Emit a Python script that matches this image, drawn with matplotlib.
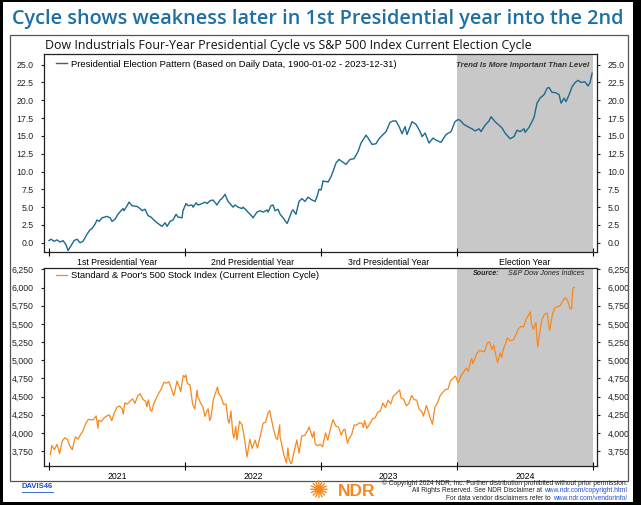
import numpy as np
import pandas as pd
import matplotlib
matplotlib.use("Agg")
import matplotlib.pyplot as plt
import matplotlib.dates as mdates
from matplotlib.patches import Rectangle
from matplotlib.lines import Line2D
from matplotlib.ticker import FormatStrFormatter, FuncFormatter

# ---------------- data ----------------
# Presidential cycle pattern: position in the 4-year cycle (years) and % change
cycle_t = [0.000, 0.015, 0.037, 0.059, 0.081, 0.103, 0.125, 0.140, 0.162, 0.184,
           0.206, 0.228, 0.250, 0.279, 0.301, 0.316, 0.338, 0.353, 0.368, 0.390,
           0.426, 0.449, 0.463, 0.485, 0.507, 0.529, 0.544, 0.551, 0.574, 0.588,
           0.610, 0.647, 0.669, 0.684, 0.706, 0.728, 0.750, 0.765, 0.794, 0.816,
           0.831, 0.853, 0.868, 0.890, 0.912, 0.934, 0.949, 0.978, 0.985, 1.007,
           1.022, 1.051, 1.059, 1.081, 1.096, 1.125, 1.147, 1.162, 1.184, 1.206,
           1.235, 1.257, 1.272, 1.294, 1.316, 1.331, 1.353, 1.368, 1.390, 1.419,
           1.426, 1.449, 1.463, 1.493, 1.500, 1.529, 1.551, 1.574, 1.603, 1.610,
           1.632, 1.647, 1.662, 1.684, 1.699, 1.721, 1.750, 1.757, 1.787, 1.794,
           1.816, 1.838, 1.860, 1.882, 1.904, 1.934, 1.956, 1.971, 1.985, 2.000,
           2.015, 2.022, 2.044, 2.051, 2.074, 2.088, 2.110, 2.132, 2.162, 2.184,
           2.213, 2.243, 2.272, 2.294, 2.331, 2.346, 2.375, 2.404, 2.426, 2.456,
           2.478, 2.507, 2.529, 2.551, 2.574, 2.596, 2.618, 2.632, 2.669, 2.699,
           2.728, 2.743, 2.765, 2.794, 2.824, 2.846, 2.882, 2.919, 2.956, 2.985,
           3.007, 3.022, 3.051, 3.088, 3.110, 3.132, 3.162, 3.176, 3.206, 3.235,
           3.250, 3.279, 3.309, 3.331, 3.353, 3.390, 3.419, 3.441, 3.463, 3.493,
           3.500, 3.529, 3.551, 3.566, 3.588, 3.610, 3.640, 3.662, 3.676, 3.699,
           3.721, 3.750, 3.765, 3.787, 3.801, 3.824, 3.846, 3.868, 3.890, 3.912,
           3.941, 3.963, 3.978, 3.993]
cycle_v = [0.3, 0.5, 0.2, 0.4, 0.1, 0.3, -0.3, -1.1, -0.4, 0.3,
           0.5, 0.0, 0.2, 1.2, 1.8, 2.0, 2.6, 3.2, 3.0, 3.5,
           3.7, 3.5, 3.0, 3.3, 4.0, 4.5, 4.8, 4.5, 5.2, 5.7,
           5.2, 5.1, 4.8, 4.5, 4.7, 3.8, 3.6, 3.3, 2.8, 2.5,
           2.3, 2.8, 2.3, 3.0, 3.2, 4.0, 3.6, 3.5, 4.5, 5.5,
           5.2, 5.3, 5.0, 5.6, 5.3, 5.5, 5.7, 5.5, 5.9, 6.0,
           5.3, 6.0, 6.2, 6.8, 5.8, 5.5, 5.0, 5.3, 5.0, 4.8,
           5.0, 4.6, 4.3, 3.7, 3.5, 4.3, 4.5, 4.3, 4.6, 4.3,
           5.2, 5.3, 4.5, 4.7, 4.0, 3.5, 2.7, 3.0, 4.5, 4.6,
           4.0, 5.8, 6.2, 5.8, 6.4, 6.0, 5.8, 6.5, 7.5, 7.4,
           8.7, 8.6, 8.6, 8.5, 9.3, 10.0, 11.2, 11.7, 11.3, 11.0,
           11.7, 11.8, 12.8, 14.0, 15.1, 14.7, 13.8, 13.9, 14.6, 15.2,
           15.6, 16.9, 17.1, 17.1, 16.3, 15.3, 16.3, 15.2, 17.0, 16.6,
           15.6, 14.9, 15.4, 14.0, 14.7, 14.4, 14.1, 15.2, 15.6, 17.0,
           17.3, 17.2, 16.6, 16.2, 16.0, 15.7, 16.0, 15.6, 16.5, 17.1,
           17.7, 17.0, 16.5, 16.1, 15.4, 14.6, 14.9, 15.8, 15.6, 16.0,
           15.5, 16.2, 17.0, 17.6, 19.6, 20.3, 20.8, 21.7, 21.8, 21.1,
           21.1, 20.8, 19.6, 20.3, 19.8, 20.8, 21.9, 22.5, 22.8, 22.5,
           22.6, 22.0, 22.5, 23.8]
cycle_labels = ["1st Presidential Year", "2nd Presidential Year",
                "3rd Presidential Year", "Election Year"]

spx_dates = [
    '2021-01-04', '2021-01-08', '2021-01-15', '2021-01-22', '2021-01-29', '2021-02-05',
    '2021-02-12', '2021-02-19', '2021-02-26', '2021-03-04', '2021-03-12', '2021-03-19',
    '2021-03-26', '2021-04-01', '2021-04-09', '2021-04-16', '2021-04-23', '2021-04-30',
    '2021-05-07', '2021-05-12', '2021-05-14', '2021-05-21', '2021-05-28', '2021-06-04',
    '2021-06-11', '2021-06-18', '2021-06-25', '2021-07-02', '2021-07-09', '2021-07-16',
    '2021-07-19', '2021-07-23', '2021-07-30', '2021-08-06', '2021-08-13', '2021-08-19',
    '2021-08-27', '2021-09-02', '2021-09-10', '2021-09-17', '2021-09-20', '2021-09-24',
    '2021-09-30', '2021-10-04', '2021-10-08', '2021-10-15', '2021-10-22', '2021-10-29',
    '2021-11-05', '2021-11-12', '2021-11-18', '2021-11-26', '2021-12-01', '2021-12-03',
    '2021-12-10', '2021-12-17', '2021-12-20', '2021-12-27', '2021-12-31',
    '2022-01-03', '2022-01-07', '2022-01-14', '2022-01-21', '2022-01-27', '2022-02-02',
    '2022-02-04', '2022-02-11', '2022-02-18', '2022-02-23', '2022-03-01', '2022-03-04',
    '2022-03-08', '2022-03-11', '2022-03-18', '2022-03-29', '2022-04-01', '2022-04-08',
    '2022-04-14', '2022-04-21', '2022-04-26', '2022-04-29', '2022-05-04', '2022-05-09',
    '2022-05-12', '2022-05-17', '2022-05-20', '2022-05-27', '2022-06-03', '2022-06-10',
    '2022-06-16', '2022-06-24', '2022-06-30', '2022-07-08', '2022-07-14', '2022-07-22',
    '2022-07-29', '2022-08-05', '2022-08-12', '2022-08-16', '2022-08-19', '2022-08-26',
    '2022-09-02', '2022-09-06', '2022-09-12', '2022-09-13', '2022-09-16', '2022-09-23',
    '2022-09-30', '2022-10-04', '2022-10-07', '2022-10-12', '2022-10-14', '2022-10-21',
    '2022-10-28', '2022-11-03', '2022-11-10', '2022-11-18', '2022-11-25', '2022-11-30',
    '2022-12-09', '2022-12-13', '2022-12-16', '2022-12-22', '2022-12-30',
    '2023-01-05', '2023-01-13', '2023-01-19', '2023-01-27', '2023-02-02', '2023-02-10',
    '2023-02-17', '2023-02-24', '2023-03-03', '2023-03-06', '2023-03-13', '2023-03-17',
    '2023-03-24', '2023-03-31', '2023-04-06', '2023-04-14', '2023-04-21', '2023-04-25',
    '2023-04-28', '2023-05-04', '2023-05-12', '2023-05-19', '2023-05-26', '2023-06-02',
    '2023-06-09', '2023-06-16', '2023-06-23', '2023-06-30', '2023-07-07', '2023-07-14',
    '2023-07-21', '2023-07-31', '2023-08-04', '2023-08-11', '2023-08-18', '2023-08-25',
    '2023-09-01', '2023-09-08', '2023-09-15', '2023-09-21', '2023-09-29', '2023-10-03',
    '2023-10-11', '2023-10-20', '2023-10-27', '2023-11-03', '2023-11-10', '2023-11-17',
    '2023-11-24', '2023-12-01', '2023-12-08', '2023-12-15', '2023-12-22', '2023-12-28',
    '2023-12-29',
    '2024-01-04', '2024-01-12', '2024-01-19', '2024-01-26', '2024-01-31', '2024-02-09',
    '2024-02-13', '2024-02-23', '2024-03-01', '2024-03-08', '2024-03-15', '2024-03-22',
    '2024-03-28', '2024-04-04', '2024-04-09', '2024-04-12', '2024-04-19', '2024-04-26',
    '2024-04-30', '2024-05-03', '2024-05-10', '2024-05-15', '2024-05-23', '2024-05-31',
    '2024-06-07', '2024-06-14', '2024-06-21', '2024-06-28', '2024-07-05', '2024-07-16',
    '2024-07-19', '2024-07-24', '2024-07-31', '2024-08-02', '2024-08-05', '2024-08-09',
    '2024-08-16', '2024-08-23', '2024-08-30', '2024-09-06', '2024-09-13', '2024-09-19',
    '2024-09-27', '2024-10-04', '2024-10-11', '2024-10-18', '2024-10-25', '2024-10-31',
    '2024-11-04', '2024-11-06', '2024-11-08', '2024-11-11']
spx_values = [
    3700, 3825, 3768, 3841, 3714, 3887,
    3934, 3907, 3811, 3768, 3943, 3913,
    3975, 4020, 4129, 4185, 4180, 4181,
    4233, 4063, 4174, 4156, 4204, 4230,
    4247, 4166, 4281, 4352, 4370, 4327,
    4258, 4412, 4395, 4437, 4468, 4406,
    4509, 4537, 4459, 4433, 4358, 4455,
    4308, 4300, 4391, 4471, 4545, 4605,
    4697, 4683, 4704, 4595, 4513, 4538,
    4712, 4621, 4568, 4791, 4766,
    4797, 4677, 4662, 4398, 4326, 4589,
    4500, 4418, 4349, 4225, 4306, 4329,
    4170, 4204, 4463, 4632, 4546, 4488,
    4393, 4394, 4175, 4132, 4300, 3991,
    3930, 4088, 3901, 4158, 4109, 3901,
    3667, 3912, 3785, 3899, 3790, 3962,
    4130, 4145, 4280, 4305, 4228, 4058,
    3924, 3909, 4110, 3932, 3873, 3693,
    3586, 3791, 3640, 3577, 3583, 3752,
    3901, 3720, 3956, 3965, 4026, 4080,
    3934, 4019, 3852, 3822, 3840,
    3808, 3999, 3899, 4071, 4180, 4090,
    4079, 3970, 4046, 4048, 3855, 3917,
    3971, 4109, 4105, 4138, 4133, 4071,
    4169, 4061, 4124, 4192, 4205, 4282,
    4299, 4410, 4348, 4450, 4399, 4505,
    4536, 4589, 4478, 4464, 4370, 4406,
    4515, 4457, 4450, 4330, 4288, 4229,
    4377, 4224, 4117, 4358, 4415, 4514,
    4559, 4595, 4604, 4719, 4755, 4783,
    4770,
    4688, 4784, 4840, 4891, 4846, 5027,
    4953, 5089, 5137, 5124, 5117, 5234,
    5254, 5147, 5209, 5123, 4967, 5100,
    5036, 5128, 5223, 5308, 5268, 5278,
    5347, 5432, 5465, 5460, 5567, 5667,
    5505, 5427, 5522, 5346, 5186, 5344,
    5554, 5634, 5648, 5408, 5626, 5714,
    5738, 5751, 5815, 5864, 5808, 5705,
    5712, 5929, 5996, 6001]
spx_years = ["2021", "2022", "2023", "2024"]

title_text = "Cycle shows weakness later in 1st Presidential year into the 2nd"
subtitle_text = "Dow Industrials Four-Year Presidential Cycle vs S&P 500 Index Current Election Cycle"
legend_top = "Presidential Election Pattern (Based on Daily Data, 1900-01-02 - 2023-12-31)"
legend_bottom = "Standard & Poor's 500 Stock Index (Current Election Cycle)"

# ---------------- style ----------------
W, H = 641, 505
BLUE = '#1b6a90'
ORANGE = '#f5891f'
SHADE = '#c8c8c8'
TITLE_BLUE = '#1d6fa4'
LINK = '#1f4fd0'
NARROW = ['Liberation Sans Narrow', 'Liberation Sans', 'DejaVu Sans']
plt.rcParams['font.family'] = NARROW

fig = plt.figure(figsize=(W / 100, H / 100), dpi=100)
fig.patch.set_facecolor('white')
renderer = fig.canvas.get_renderer()


def fx(x):
    return x / W


def fy(y):
    return 1 - y / H


def size_for(s, width, base=10, **kw):
    t = fig.text(0, 0, s, fontsize=base, **kw)
    w = t.get_window_extent(renderer=renderer).width
    t.remove()
    return base * width / w


def fit(t, width):
    w = t.get_window_extent(renderer=renderer).width
    t.set_fontsize(t.get_fontsize() * width / w)


def box(x0, y0, x1, y1, **kw):
    fig.add_artist(Rectangle((fx(x0), fy(y1)), (x1 - x0) / W, (y1 - y0) / H,
                             transform=fig.transFigure, **kw))


# outer black frame and inner gray box
for (a, b, c, d) in [(0, 0, 3, H), (W - 8, 0, W, H), (0, H - 3, W, H), (0, 0, W, 2)]:
    box(a, b, c, d, color='black', lw=0, zorder=0)
box(10, 35, 628, 481, fill=False, edgecolor='#555555', lw=0.9)

# title / subtitle
t = fig.text(fx(12), fy(19), title_text, ha='left', va='center', color=TITLE_BLUE,
             fontsize=18, weight='semibold', family=['Open Sans', 'DejaVu Sans'])
fit(t, 612)
t = fig.text(fx(45), fy(45), subtitle_text, ha='left', va='center', color='#111111',
             fontsize=9, family=['Open Sans', 'DejaVu Sans'])
fit(t, 487)

# ---------------- top axes ----------------
ax1 = fig.add_axes([fx(44), fy(252), fx(597) - fx(44), fy(54) - fy(252)])
ax1.axvspan(3, 4, color=SHADE, lw=0, zorder=0)
ax1.plot(cycle_t, cycle_v, color=BLUE, lw=1.0, label=legend_top)
ax1.set_xlim(-0.037, 4.029)
ax1.set_ylim(-1.3, 26.5)
ax1.set_yticks(np.arange(0, 25.01, 2.5))
ax1.yaxis.set_major_formatter(FormatStrFormatter('%.1f'))
ax1.set_xticks([0, 1, 2, 3, 4])
ax1.set_xticklabels([])
ax1.set_xticks([0.5, 1.5, 2.5, 3.5], minor=True)
ax1.set_xticklabels(cycle_labels, minor=True)

lsz = size_for(legend_top, 326)
leg = ax1.legend(loc='center left', bbox_to_anchor=(0.022, 0.949), frameon=False,
                 fontsize=lsz, handlelength=1.1, handletextpad=0.45,
                 borderpad=0, borderaxespad=0)
t = ax1.text(0.9855, 0.944, "Trend Is More Important Than Level", transform=ax1.transAxes,
             ha='right', va='center', style='italic', weight='bold', color='#333333', fontsize=8)
fit(t, 133)

# ---------------- bottom axes ----------------
ax2 = fig.add_axes([fx(44), fy(466), fx(597) - fx(44), fy(268) - fy(466)])
d = pd.to_datetime(spx_dates)
ax2.axvspan(pd.Timestamp('2024-01-01'), pd.Timestamp('2025-01-01'), color=SHADE, lw=0, zorder=0)
ax2.plot(d, spx_values, color=ORANGE, lw=0.9, label=legend_bottom)
ax2.set_xlim(pd.Timestamp('2020-12-18'), pd.Timestamp('2025-01-11'))
ax2.set_ylim(3543, 6270)
ax2.set_yticks(np.arange(3750, 6250.1, 250))
ax2.yaxis.set_major_formatter(FuncFormatter(lambda v, p: f"{int(v):,}"))
ax2.set_xticks([pd.Timestamp(f'{y}-01-01') for y in range(2021, 2026)])
ax2.set_xticklabels([])
ax2.set_xticks([pd.Timestamp(f'{y}-07-02') for y in spx_years], minor=True)
ax2.set_xticklabels(spx_years, minor=True)

lsz2 = size_for(legend_bottom, 250)
ax2.legend(loc='center left', bbox_to_anchor=(0.022, 0.96), frameon=False,
           fontsize=lsz2, handlelength=1.1, handletextpad=0.45,
           borderpad=0, borderaxespad=0)

t2 = ax2.text(0.9765, 0.97, "S&P Dow Jones Indices", transform=ax2.transAxes,
              ha='right', va='center', style='italic', color='#222222', fontsize=7)
fit(t2, 76)
bb = t2.get_window_extent(renderer=renderer)
ax2.text(bb.x0 - 8, (bb.y0 + bb.y1) / 2, "Source:", transform=None,
         ha='right', va='center', style='italic', weight='bold', color='#222222',
         fontsize=t2.get_fontsize())

for ax in (ax1, ax2):
    for s in ax.spines.values():
        s.set_linewidth(0.9)
        s.set_color('#222222')
    ax.tick_params(axis='y', which='major', left=True, right=True, labelleft=True,
                   labelright=True, direction='out', length=2.5, width=0.8,
                   labelsize=6.3, pad=5, colors='#222222')
    ax.tick_params(axis='x', which='major', direction='inout', length=6, width=0.8)
    ax.tick_params(axis='x', which='minor', length=0, labelsize=6.3, pad=4)
    ax.set_facecolor('white')

# ---------------- footer ----------------
t = fig.text(fx(22), fy(487), "DAVIS46", ha='left', va='center', color=LINK,
             fontsize=5.5, weight='bold')
bb = t.get_window_extent(renderer=renderer)
fig.add_artist(Line2D([bb.x0 / W, bb.x1 / W], [(bb.y0 - 1) / H, (bb.y0 - 1) / H],
                      transform=fig.transFigure, color=LINK, lw=0.6))

fig.text(fx(319), fy(491), "\u273A", ha='center', va='center', color=ORANGE,
         fontsize=17, family=['DejaVu Sans'])
fig.text(fx(338), fy(491), "NDR", ha='left', va='center', color=ORANGE,
         fontsize=12.5, weight='bold', family=['Liberation Sans', 'DejaVu Sans'])

foot = [("\u00a9 Copyright 2024 NDR, Inc. Further distribution prohibited without prior permission.", "", 483, 243),
        ("All Rights Reserved. See NDR Disclaimer at ", "www.ndr.com/copyright.html", 491, 222),
        ("For data vendor disclaimers refer to ", "www.ndr.com/vendorinfo/", 499, 182)]
fsz = size_for(foot[0][0], foot[0][3])
for plain, link, yy, wd in foot:
    xr = 627
    if link:
        tl = fig.text(fx(xr), fy(yy), link, ha='right', va='center', color=LINK, fontsize=fsz)
        xr = tl.get_window_extent(renderer=renderer).x0
        fig.text(xr / W, fy(yy), plain, ha='right', va='center', color='#222222', fontsize=fsz)
    else:
        fig.text(fx(xr), fy(yy), plain, ha='right', va='center', color='#222222', fontsize=fsz)

fig.savefig('out.png', dpi=100, facecolor=fig.get_facecolor())
